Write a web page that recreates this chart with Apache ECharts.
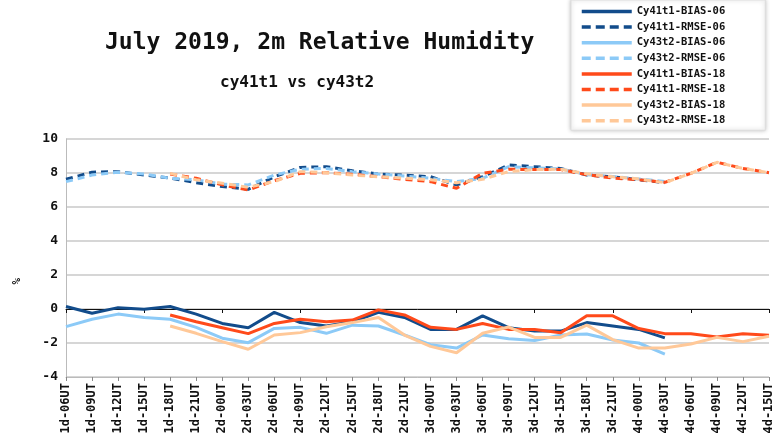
<!DOCTYPE html>
<html lang="en">
<head>
	<meta charset="UTF-8">
	<title>July 2019, 2m Relative Humidity</title>
	<style>
		html, body { margin: 0; padding: 0; background: #fff; }
	</style>
</head>
<body>
<div id="chart" style="width:775px;height:446px;"></div>
<script src="https://cdn.jsdelivr.net/npm/echarts@6/dist/echarts.min.js"></script>
<script>
// forecast lead times
var categories = ['1d-06UT','1d-09UT','1d-12UT','1d-15UT','1d-18UT','1d-21UT',
	'2d-00UT','2d-03UT','2d-06UT','2d-09UT','2d-12UT','2d-15UT','2d-18UT','2d-21UT',
	'3d-00UT','3d-03UT','3d-06UT','3d-09UT','3d-12UT','3d-15UT','3d-18UT','3d-21UT',
	'4d-00UT','4d-03UT','4d-06UT','4d-09UT','4d-12UT','4d-15UT'];

var yTicks = [-4, -2, 0, 2, 4, 6, 8, 10];

// 06 UTC runs (end at 4d-03UT)
var bias41_06 = [0.15,-0.25,0.08,-0.02,0.15,-0.3,-0.85,-1.1,-0.2,-0.8,-1.0,-0.75,-0.2,-0.5,-1.2,-1.2,-0.4,-1.1,-1.3,-1.3,-0.8,-1.0,-1.2,-1.7,'-','-','-','-'];
var rmse41_06 = [7.63,8.05,8.08,7.88,7.7,7.43,7.2,7.04,7.78,8.33,8.37,8.13,7.94,7.88,7.78,7.3,7.78,8.47,8.37,8.27,7.88,7.78,7.6,7.43,'-','-','-','-'];
var bias43_06 = [-1.04,-0.6,-0.3,-0.5,-0.6,-1.08,-1.72,-1.98,-1.14,-1.08,-1.43,-0.95,-1.0,-1.53,-2.1,-2.3,-1.53,-1.75,-1.86,-1.53,-1.47,-1.82,-2.0,-2.65,'-','-','-','-'];
var rmse43_06 = [7.49,7.88,8.04,7.94,7.69,7.6,7.35,7.3,7.88,8.22,8.27,8.08,7.94,7.82,7.69,7.49,7.69,8.37,8.3,8.25,7.9,7.8,7.65,7.5,'-','-','-','-'];

// 18 UTC runs (start at 1d-18UT)
var bias41_18 = ['-','-','-','-',-0.35,-0.75,-1.1,-1.45,-0.85,-0.6,-0.75,-0.65,-0.05,-0.35,-1.08,-1.2,-0.85,-1.2,-1.2,-1.4,-0.4,-0.4,-1.15,-1.45,-1.45,-1.65,-1.45,-1.55];
var rmse41_18 = ['-','-','-','-',7.94,7.69,7.3,7.0,7.55,7.98,8.02,7.92,7.78,7.63,7.49,7.1,7.98,8.22,8.2,8.2,7.9,7.7,7.6,7.45,7.98,8.63,8.27,8.02];
var bias43_18 = ['-','-','-','-',-1.0,-1.43,-1.92,-2.37,-1.53,-1.39,-1.04,-0.8,-0.5,-1.53,-2.2,-2.57,-1.43,-1.06,-1.67,-1.67,-0.95,-1.8,-2.3,-2.3,-2.06,-1.67,-1.92,-1.6];
var rmse43_18 = ['-','-','-','-',7.98,7.6,7.4,7.16,7.49,8.08,8.02,7.88,7.78,7.69,7.6,7.43,7.63,8.08,8.2,8.22,7.95,7.78,7.65,7.43,7.98,8.63,8.27,8.02];

var names = ['Cy41t1-BIAS-06','Cy41t1-RMSE-06','Cy43t2-BIAS-06','Cy43t2-RMSE-06',
	'Cy41t1-BIAS-18','Cy41t1-RMSE-18','Cy43t2-BIAS-18','Cy43t2-RMSE-18'];
var values = [bias41_06, rmse41_06, bias43_06, rmse43_06, bias41_18, rmse41_18, bias43_18, rmse43_18];
var colors = ['#124c8b','#124c8b','#8ccaf7','#8ccaf7','#ff4a1a','#ff4a1a','#ffc898','#ffc898'];

var mono = 'DejaVu Sans Mono';

var series = names.map(function (n, i) {
	var dashed = i % 2 === 1;
	return {
		name: n,
		type: 'line',
		xAxisIndex: 0,
		data: values[i],
		symbol: 'none',
		connectNulls: false,
		lineStyle: { color: colors[i], width: 3, type: dashed ? [7, 5] : 'solid' },
		itemStyle: { color: colors[i] }
	};
});

// legend entries: thicker strokes, longer dashes like the original
var legendData = names.map(function (n, i) {
	return {
		name: n,
		lineStyle: { width: 3.5, type: i % 2 === 1 ? [9, 5] : 'solid' }
	};
});

var myChart = echarts.init(document.getElementById('chart'));

var option = {
	backgroundColor: '#fff',
	animation: false,
	title: [{
		text: 'July 2019, 2m Relative Humidity',
		left: 100, top: 27,
		textStyle: { fontFamily: mono, fontSize: 23, fontWeight: 'bold', color: '#111' }
	}, {
		text: 'cy41t1 vs cy43t2',
		left: 215, top: 70,
		textStyle: { fontFamily: mono, fontSize: 16, fontWeight: 'bold', color: '#111' }
	}],
	legend: {
		orient: 'vertical',
		left: 571, top: 0,
		padding: [6, 40, 4, 9],
		itemWidth: 50, itemHeight: 12, itemGap: 4.6,
		backgroundColor: '#fff',
		borderColor: '#ddd', borderWidth: 1,
		shadowColor: 'rgba(0,0,0,0.25)', shadowBlur: 4,
		itemStyle: { opacity: 0 },
		lineStyle: { width: 3.5 },
		textStyle: { fontFamily: mono, fontSize: 10.5, fontWeight: 'bold', color: '#111' },
		data: legendData
	},
	grid: { left: 66, right: 5, top: 139, bottom: 69 },
	xAxis: [{
		type: 'category',
		data: categories,
		boundaryGap: false,
		position: 'bottom',
		axisLine: { onZero: false, lineStyle: { color: '#bbb' } },
		axisTick: { show: true, length: 4, lineStyle: { color: '#888' } },
		axisLabel: { interval: 0, rotate: 90, margin: 6, fontFamily: mono, fontSize: 12, fontWeight: 'bold', color: '#111' },
		splitLine: { show: false }
	}, {
		type: 'category',
		data: categories,
		boundaryGap: false,
		position: 'bottom',
		axisLine: { onZero: true, lineStyle: { color: '#111', width: 1 } },
		axisTick: { show: true, length: 4, lineStyle: { color: '#111' } },
		axisLabel: { show: false },
		splitLine: { show: false }
	}],
	yAxis: {
		type: 'value',
		min: yTicks[0], max: yTicks[yTicks.length - 1], interval: 2,
		axisLine: { show: true, lineStyle: { color: '#bbb' } },
		axisTick: { show: false },
		axisLabel: { margin: 8, fontFamily: mono, fontSize: 13, fontWeight: 'bold', color: '#111' },
		splitLine: { lineStyle: { color: '#c8c8c8', width: 1.5 } }
	},
	graphic: [{
		type: 'text',
		left: 12, top: 278,
		rotation: Math.PI / 2,
		style: { text: '%', font: 'bold 11px "DejaVu Sans Mono"', fill: '#111' }
	}],
	series: series
};

myChart.setOption(option);
</script>
</body>
</html>
